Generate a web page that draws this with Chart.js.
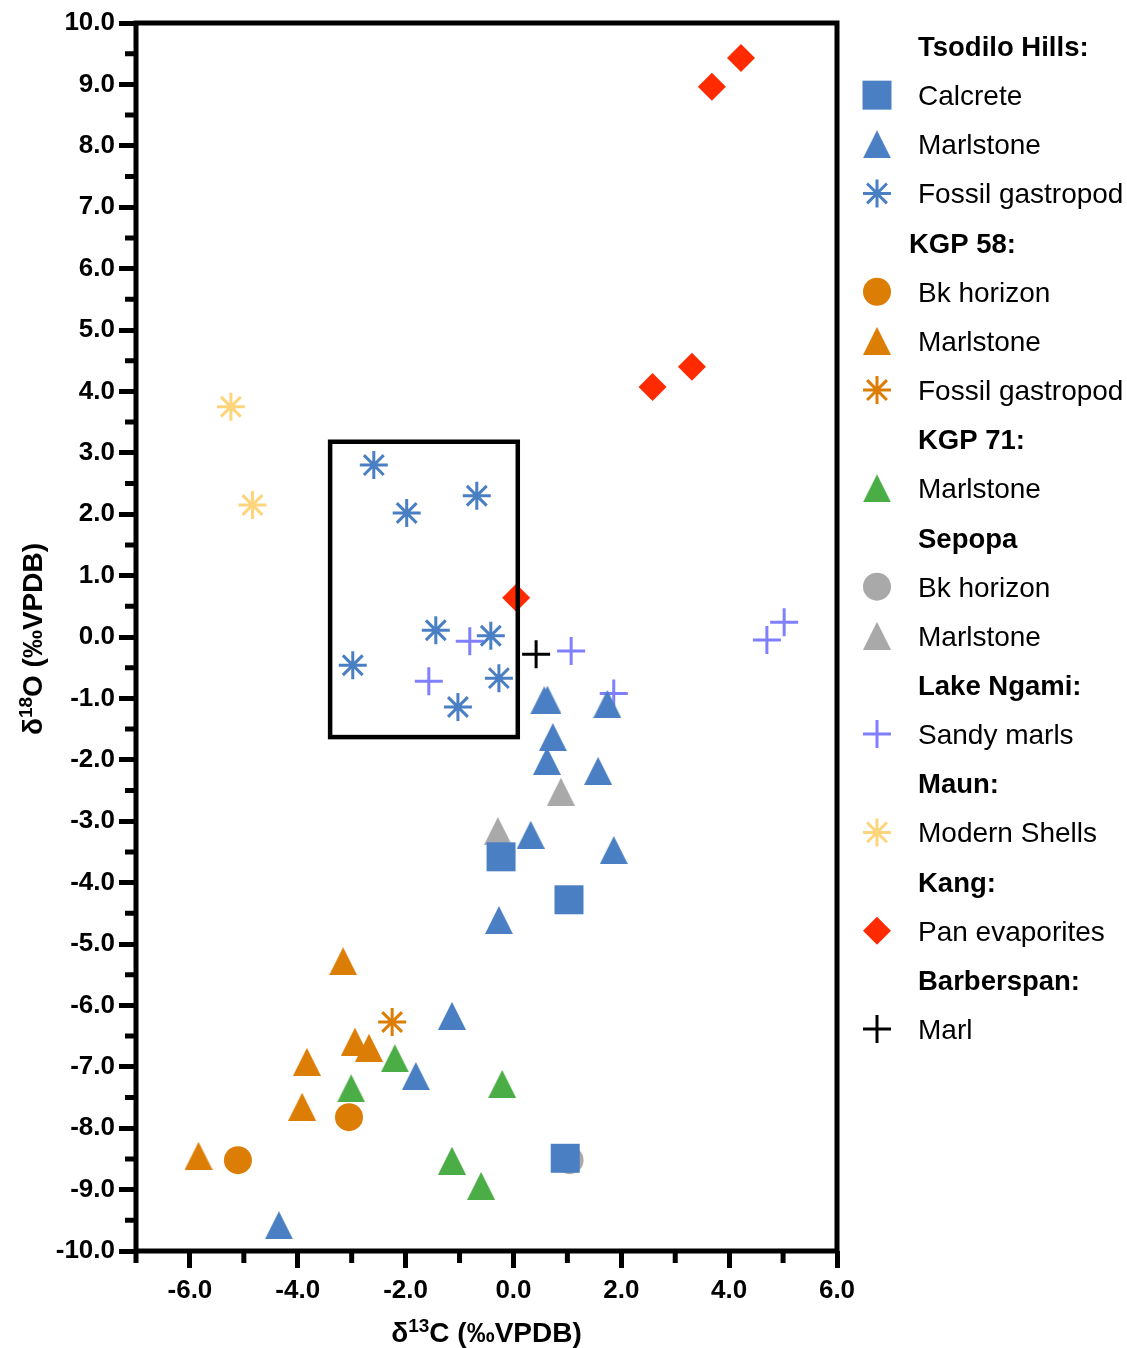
<!DOCTYPE html>
<html>
<head>
<meta charset="utf-8">
<title>δ13C vs δ18O</title>
<style>
  html, body { margin: 0; padding: 0; background: #ffffff; }
  #wrap { position: relative; width: 1127px; height: 1348px; }
</style>
<script src="https://cdn.jsdelivr.net/npm/chart.js@4/dist/chart.umd.min.js"></script>
</head>
<body>
<div id="wrap"><canvas id="chart"></canvas></div>
<script>
// δ13C / δ18O (‰ VPDB) for each sample group
const tsodiloCalcreteC  = [-0.23, 1.03, 0.96];
const tsodiloCalcreteO  = [-3.58, -4.28, -8.49];
const tsodiloMarlstoneC = [0.57, 0.63, 1.74, 0.73, 0.62, 1.57, 0.32, 1.86, -0.27, -1.14, -1.81, -4.35];
const tsodiloMarlstoneO = [-1.03, -1.02, -1.09, -1.63, -2.02, -2.18, -3.22, -3.47, -4.61, -6.17, -7.15, -9.58];
const tsodiloGastropodC = [-2.59, -1.98, -0.68, -1.44, -0.42, -2.98, -0.27, -1.03];
const tsodiloGastropodO = [2.80, 2.02, 2.30, 0.11, 0.02, -0.46, -0.67, -1.14];
const kgp58BkC          = [-3.05, -5.11];
const kgp58BkO          = [-7.82, -8.52];
const kgp58MarlstoneC   = [-3.16, -2.94, -2.68, -3.83, -3.92, -5.84];
const kgp58MarlstoneO   = [-5.28, -6.59, -6.69, -6.92, -7.65, -8.45];
const kgp58GastropodC   = [-2.25];
const kgp58GastropodO   = [-6.27];
const kgp71MarlstoneC   = [-2.20, -3.01, -0.21, -1.14, -0.60];
const kgp71MarlstoneO   = [-6.86, -7.35, -7.28, -8.53, -8.94];
const sepopaBkC         = [1.04];
const sepopaBkO         = [-8.52];
const sepopaMarlstoneC  = [0.88, -0.29];
const sepopaMarlstoneO  = [-2.52, -3.16];
const ngamiSandyMarlC   = [-0.81, -1.57, 1.07, 1.86, 4.70, 5.02];
const ngamiSandyMarlO   = [-0.07, -0.72, -0.23, -0.92, -0.05, 0.24];
const maunShellC        = [-5.24, -4.84];
const maunShellO        = [3.75, 2.15];
const kangEvaporiteC    = [0.05, 4.22, 3.68, 3.31, 2.58];
const kangEvaporiteO    = [0.64, 9.43, 8.96, 4.40, 4.07];
const barberspanMarlC   = [0.42];
const barberspanMarlO   = [-0.28];

// outlined cluster of Tsodilo gastropods (δ13C range, δ18O range)
const boxC = [-3.40, 0.08];
const boxO = [-1.63, 3.18];

// axis ticks
const xTickValues  = [-6, -4, -2, 0, 2, 4, 6];
const xMinorValues = [-7, -5, -3, -1, 1, 3, 5];
const yTickValues  = [-10, -9, -8, -7, -6, -5, -4, -3, -2, -1, 0, 1, 2, 3, 4, 5, 6, 7, 8, 9, 10];
const yMinorValues = [-9.5, -8.5, -7.5, -6.5, -5.5, -4.5, -3.5, -2.5, -1.5, -0.5,
                      0.5, 1.5, 2.5, 3.5, 4.5, 5.5, 6.5, 7.5, 8.5, 9.5];

const FONT = "'Liberation Sans', Arial, Helvetica, sans-serif";
const BLUE = '#4a7fc4', ORANGE = '#dc7e06', GREEN = '#4bad45', GREY = '#a9a9a9';
const LILAC = '#8080ff', SAND = '#ffd57c', RED = '#ff2a00', BLACK = '#000000';

function triangleMarker(color) {
  const w = 28, h = 28;
  const c = document.createElement('canvas');
  c.width = w; c.height = h;
  const g = c.getContext('2d');
  g.fillStyle = color;
  g.beginPath();
  g.moveTo(w / 2, 0);
  g.lineTo(w, h);
  g.lineTo(0, h);
  g.closePath();
  g.fill();
  return c;
}

function markerStyle(kind, color) {
  switch (kind) {
    case 'square':   return { pointStyle: 'rect', radius: 20.5, borderWidth: 0 };
    case 'circle':   return { pointStyle: 'circle', radius: 14, borderWidth: 0 };
    case 'diamond':  return { pointStyle: 'rectRot', radius: 14, borderWidth: 0 };
    case 'star':     return { pointStyle: 'star', radius: 14, borderWidth: 3 };
    case 'cross':    return { pointStyle: 'cross', radius: 14, borderWidth: 3 };
    case 'triangle': return { pointStyle: triangleMarker(color), radius: 14, borderWidth: 0 };
  }
}

const series = [
  { group: 'Tsodilo Hills:', label: 'Calcrete',         c: tsodiloCalcreteC,  o: tsodiloCalcreteO,  color: BLUE,   kind: 'square' },
  { group: 'Tsodilo Hills:', label: 'Marlstone',        c: tsodiloMarlstoneC, o: tsodiloMarlstoneO, color: BLUE,   kind: 'triangle' },
  { group: 'Tsodilo Hills:', label: 'Fossil gastropod', c: tsodiloGastropodC, o: tsodiloGastropodO, color: BLUE,   kind: 'star' },
  { group: 'KGP 58:',        label: 'Bk horizon',       c: kgp58BkC,          o: kgp58BkO,          color: ORANGE, kind: 'circle' },
  { group: 'KGP 58:',        label: 'Marlstone',        c: kgp58MarlstoneC,   o: kgp58MarlstoneO,   color: ORANGE, kind: 'triangle' },
  { group: 'KGP 58:',        label: 'Fossil gastropod', c: kgp58GastropodC,   o: kgp58GastropodO,   color: ORANGE, kind: 'star' },
  { group: 'KGP 71:',        label: 'Marlstone',        c: kgp71MarlstoneC,   o: kgp71MarlstoneO,   color: GREEN,  kind: 'triangle' },
  { group: 'Sepopa',         label: 'Bk horizon',       c: sepopaBkC,         o: sepopaBkO,         color: GREY,   kind: 'circle' },
  { group: 'Sepopa',         label: 'Marlstone',        c: sepopaMarlstoneC,  o: sepopaMarlstoneO,  color: GREY,   kind: 'triangle' },
  { group: 'Lake Ngami:',    label: 'Sandy marls',      c: ngamiSandyMarlC,   o: ngamiSandyMarlO,   color: LILAC,  kind: 'cross' },
  { group: 'Maun:',          label: 'Modern Shells',    c: maunShellC,        o: maunShellO,        color: SAND,   kind: 'star' },
  { group: 'Kang:',          label: 'Pan evaporites',   c: kangEvaporiteC,    o: kangEvaporiteO,    color: RED,    kind: 'diamond' },
  { group: 'Barberspan:',    label: 'Marl',             c: barberspanMarlC,   o: barberspanMarlO,   color: BLACK,  kind: 'cross' }
];

const datasets = series.map(s => {
  const m = markerStyle(s.kind, s.color);
  return {
    label: s.label,
    group: s.group,
    data: s.c.map((v, i) => ({ x: v, y: s.o[i] })),
    pointStyle: m.pointStyle,
    pointRadius: m.radius,
    pointHoverRadius: m.radius,
    pointBorderWidth: m.borderWidth,
    pointHoverBorderWidth: m.borderWidth,
    backgroundColor: s.color,
    borderColor: s.color,
    marker: m
  };
});

// text with a raised numeral (isotope mass numbers)
function drawIsotopeText(ctx, parts, cx, baseline) {
  let total = 0;
  parts.forEach(p => {
    ctx.font = 'bold ' + p.size + 'px ' + FONT;
    p.w = ctx.measureText(p.t).width;
    total += p.w;
  });
  let x = cx - total / 2;
  ctx.textAlign = 'left';
  ctx.textBaseline = 'alphabetic';
  parts.forEach(p => {
    ctx.font = 'bold ' + p.size + 'px ' + FONT;
    ctx.fillText(p.t, x, baseline - (p.rise || 0));
    x += p.w;
  });
}

const frameWidth = 5;

const decorations = {
  id: 'decorations',
  afterDatasetsDraw(chart) {
    const { ctx, chartArea: a, scales: { x, y } } = chart;
    ctx.save();
    ctx.strokeStyle = '#000';
    ctx.lineCap = 'butt';
    // outline around the gastropod cluster
    ctx.lineWidth = 4.5;
    const bx1 = x.getPixelForValue(boxC[0]), bx2 = x.getPixelForValue(boxC[1]);
    const by1 = y.getPixelForValue(boxO[1]), by2 = y.getPixelForValue(boxO[0]);
    ctx.strokeRect(bx1, by1, bx2 - bx1, by2 - by1);
    // plot frame
    ctx.lineWidth = frameWidth;
    ctx.strokeRect(a.left, a.top, a.right - a.left, a.bottom - a.top);
    // minor ticks
    ctx.beginPath();
    yMinorValues.forEach(v => {
      const p = y.getPixelForValue(v);
      ctx.moveTo(a.left, p); ctx.lineTo(a.left - 11, p);
    });
    xMinorValues.forEach(v => {
      const p = x.getPixelForValue(v);
      ctx.moveTo(p, a.bottom); ctx.lineTo(p, a.bottom + 12);
    });
    ctx.stroke();
    ctx.restore();
  },
  afterDraw(chart) {
    const { ctx, chartArea: a } = chart;
    ctx.save();
    ctx.fillStyle = '#000';
    // axis titles
    drawIsotopeText(ctx, [
      { t: 'δ', size: 28 }, { t: '13', size: 19, rise: 10 }, { t: 'C (‰VPDB)', size: 28 }
    ], (a.left + a.right) / 2, 1342);
    ctx.save();
    ctx.translate(42, (a.top + a.bottom) / 2 + 2);
    ctx.rotate(-Math.PI / 2);
    drawIsotopeText(ctx, [
      { t: 'δ', size: 28 }, { t: '18', size: 19, rise: 10 }, { t: 'O (‰VPDB)', size: 28 }
    ], 0, 0);
    ctx.restore();

    // grouped legend
    const markerX = 877, textX = 918, firstRow = 46, rowStep = 49.15;
    const headerIndent = { 'KGP 58:': -9 };
    let row = 0, lastGroup = null;
    ctx.textAlign = 'left';
    ctx.textBaseline = 'alphabetic';
    chart.data.datasets.forEach(ds => {
      if (ds.group !== lastGroup) {
        const yy = firstRow + row * rowStep;
        ctx.font = 'bold 27.5px ' + FONT;
        ctx.fillStyle = '#000';
        ctx.fillText(ds.group, textX + (headerIndent[ds.group] || 0), yy + 10);
        lastGroup = ds.group;
        row++;
      }
      const yy = firstRow + row * rowStep;
      ctx.save();
      ctx.fillStyle = ds.backgroundColor;
      ctx.strokeStyle = ds.borderColor;
      ctx.lineWidth = ds.marker.borderWidth;
      Chart.helpers.drawPoint(ctx, {
        pointStyle: ds.marker.pointStyle,
        radius: ds.marker.radius,
        borderWidth: ds.marker.borderWidth,
        rotation: 0
      }, markerX, yy);
      ctx.restore();
      ctx.font = '28px ' + FONT;
      ctx.fillStyle = '#000';
      ctx.fillText(ds.label, textX, yy + 10);
      row++;
    });
    ctx.restore();
  }
};

const tickFont = { family: FONT, size: 26, weight: 'bold' };

new Chart(document.getElementById('chart'), {
  type: 'scatter',
  data: { datasets },
  plugins: [decorations],
  options: {
    responsive: true,
    maintainAspectRatio: false,
    devicePixelRatio: 1,
    animation: false,
    events: [],
    layout: { padding: { top: 23, right: 290, left: 0, bottom: 0 } },
    plugins: { legend: { display: false }, tooltip: { enabled: false } },
    scales: {
      x: {
        type: 'linear',
        position: 'bottom',
        min: -7,
        max: 6,
        afterBuildTicks: s => { s.ticks = xTickValues.map(v => ({ value: v })); },
        afterFit: s => { s.height = 97; },
        ticks: {
          callback: v => v.toFixed(1),
          font: tickFont,
          color: '#000',
          padding: 7,
          maxRotation: 0,
          autoSkip: false
        },
        grid: { drawOnChartArea: false, tickLength: 17, tickWidth: frameWidth, tickColor: '#000' },
        border: { display: false }
      },
      y: {
        type: 'linear',
        position: 'left',
        min: -10,
        max: 10,
        afterBuildTicks: s => { s.ticks = yTickValues.map(v => ({ value: v })); },
        afterFit: s => { s.width = 136; },
        ticks: {
          callback: v => v.toFixed(1),
          font: tickFont,
          color: '#000',
          padding: 4,
          autoSkip: false
        },
        grid: { drawOnChartArea: false, tickLength: 17, tickWidth: frameWidth, tickColor: '#000' },
        border: { display: false }
      }
    }
  }
});
</script>
</body>
</html>
